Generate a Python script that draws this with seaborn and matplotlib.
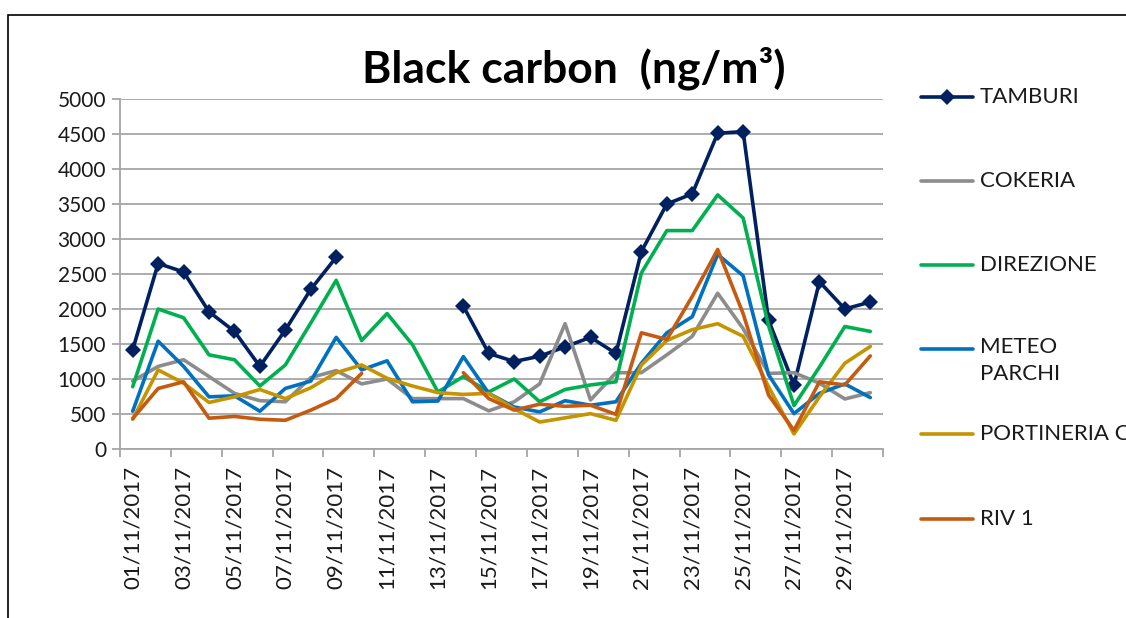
import numpy as np
import pandas as pd
import matplotlib
matplotlib.use('agg')
import matplotlib.pyplot as plt
from matplotlib.lines import Line2D
from matplotlib.patches import Rectangle
import seaborn as sns

# -----------------------------
# data (ng/m3), 1-30 Nov 2017, NaN = no measurement
# -----------------------------
days = [f'{d:02d}/11/2017' for d in range(1, 31)]

tamburi = [1420, 2650, 2530, 1960, 1680, 1180, 1700, 2280, 2740, np.nan,
           np.nan, np.nan, np.nan, 2040, 1365, 1250, 1325, 1460, 1595, 1365,
           2820, 3500, 3645, 4510, 4535, 1840, 915, 2390, 2000, 2100]
cokeria = [970, 1180, 1275, 1035, 795, 690, 675, 1020, 1120, 930,
           1000, 720, 720, 720, 545, 675, 930, 1790, 700, 1090,
           1090, 1345, 1610, 2225, 1720, 1080, 1090, 940, 715, 805]
direzione = [890, 2000, 1875, 1345, 1275, 900, 1200, 1800, 2410, 1550,
             1935, 1490, 815, 1035, 815, 1000, 675, 850, 915, 960,
             2515, 3120, 3120, 3630, 3300, 1760, 620, 1170, 1750, 1680]
meteo_parchi = [540, 1540, 1180, 745, 760, 540, 865, 970, 1595, 1130,
                1260, 675, 685, 1320, 795, 600, 530, 690, 625, 675,
                1225, 1660, 1890, 2780, 2475, 1060, 505, 795, 930, 735]
portineria = [425, 1130, 940, 665, 745, 850, 720, 875, 1090, 1200,
              1010, 900, 805, 780, 795, 575, 385, 445, 505, 410,
              1200, 1550, 1705, 1790, 1610, 890, 215, 745, 1225, 1465]
riv1 = [435, 865, 960, 440, 465, 425, 410, 555, 720, 1080,
        np.nan, np.nan, np.nan, 1090, 720, 555, 640, 610, 625, 495,
        1660, 1565, 2180, 2850, 1935, 770, 265, 960, 915, 1330]

stations = ['TAMBURI', 'COKERIA', 'DIREZIONE', 'METEO PARCHI', 'PORTINERIA C', 'RIV 1']
legend_labels = ['TAMBURI', 'COKERIA', 'DIREZIONE', 'METEO\nPARCHI', 'PORTINERIA C', 'RIV 1']
series = [tamburi, cokeria, direzione, meteo_parchi, portineria, riv1]
colors = ['#002060', '#8c8c8c', '#00b050', '#0070c0', '#c59400', '#c55a11']

# -----------------------------
# plot
# -----------------------------
sns.set_style('white')
plt.rcParams['font.family'] = ['Lato', 'DejaVu Sans']

fig = plt.figure(figsize=(11.26, 6.18), dpi=100)
ax = fig.add_axes([120 / 1126, 169 / 618, 763 / 1126, 350 / 618])

for i, (name, vals) in enumerate(zip(stations, series)):
    df = pd.DataFrame({'x': np.arange(len(days)), 'y': vals})
    # split at gaps so the line is broken like in the original
    df['seg'] = df['y'].isna().cumsum()
    df = df.dropna()
    sns.lineplot(data=df, x='x', y='y', units='seg', estimator=None,
                 color=colors[i], lw=2.6, ax=ax, legend=False,
                 marker='D' if name == 'TAMBURI' else None,
                 markersize=8, markeredgewidth=0, zorder=3 + i)

ax.set_xlim(-0.5, len(days) - 0.5)
ax.set_ylim(0, 5000)
ax.set_yticks(np.arange(0, 5001, 500))
ax.set_xticks(np.arange(0, len(days), 2))
ax.set_xticklabels(days[::2], rotation=90)
ax.set_xticks(np.arange(-0.5, len(days), 2), minor=True)
ax.set_xlabel('')
ax.set_ylabel('')

ax.grid(axis='y', color='#a6a6a6', lw=1.3)
ax.set_axisbelow(True)
for s in ['top', 'right']:
    ax.spines[s].set_visible(False)
for s in ['left', 'bottom']:
    ax.spines[s].set_color('#a6a6a6')
    ax.spines[s].set_linewidth(1.3)

ax.tick_params(axis='y', which='major', length=6, width=1.3, color='#a6a6a6',
               labelsize=15, labelcolor='#1a1a1a', pad=4, left=True)
ax.tick_params(axis='x', which='major', length=0, labelsize=16,
               labelcolor='#1a1a1a', pad=12)
ax.tick_params(axis='x', which='minor', length=6, width=1.3, color='#a6a6a6',
               bottom=True)

fig.text(574 / 1126, 1 - 68 / 618, 'Black carbon  (ng/m³)', ha='center',
         va='center', fontsize=32, fontweight='bold', color='black')

# legend drawn at the right side, one entry per station
leg_y = [97, 181, 265, 349, 434, 519]
for i, lab in enumerate(legend_labels):
    yy = 1 - leg_y[i] / 618
    fig.add_artist(Line2D([921 / 1126, 973 / 1126], [yy, yy],
                          transform=fig.transFigure, color=colors[i], lw=2.6))
    if i == 0:
        fig.add_artist(Line2D([947 / 1126], [yy], transform=fig.transFigure,
                              color=colors[i], marker='D', markersize=8,
                              markeredgewidth=0, lw=0))
    if '\n' in lab:
        fig.text(980 / 1126, yy + 12 / 618, lab, ha='left', va='top',
                 fontsize=16, color='#1a1a1a', linespacing=1.45)
    else:
        fig.text(980 / 1126, yy, lab, ha='left', va='center',
                 fontsize=16, color='#1a1a1a')

# outer chart border (only top and left visible in the crop)
fig.add_artist(Rectangle((8 / 1126, -0.1), 1.2, 1.1 - 15 / 618,
                         transform=fig.transFigure, fill=False,
                         ec='black', lw=1.2))

fig.savefig('out.png', dpi=100)
